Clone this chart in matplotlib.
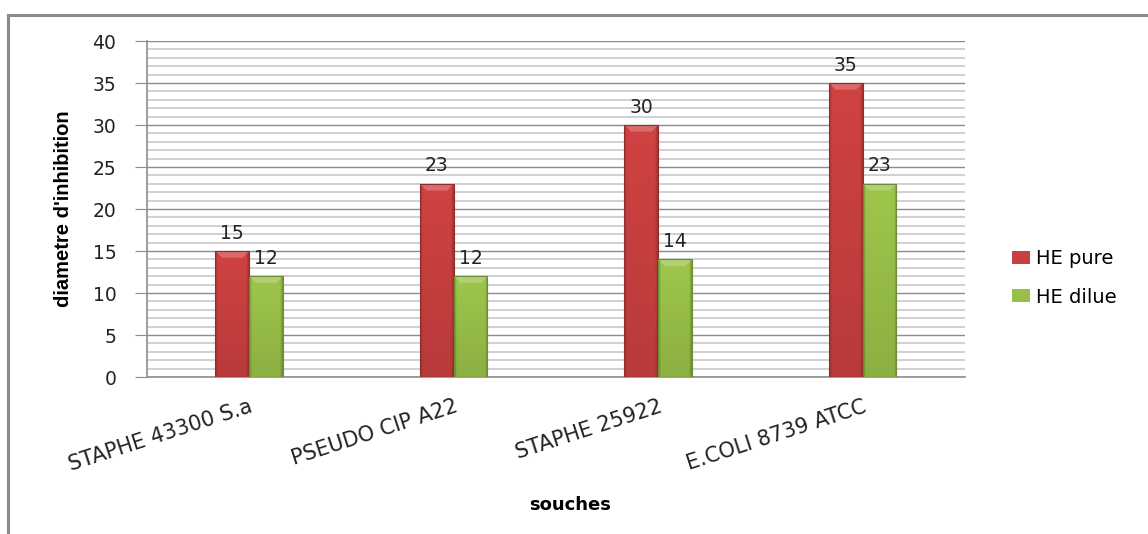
import matplotlib.pyplot as plt
import numpy as np
from matplotlib.colors import to_rgb
from matplotlib.lines import Line2D
from matplotlib.patches import Polygon

# Données : diamètres d'inhibition (mm) par souche
souches = ["STAPHE 43300 S.a", "PSEUDO CIP A22", "STAPHE 25922", "E.COLI 8739 ATCC"]
he_pure = [15, 23, 30, 35]
he_dilue = [12, 12, 14, 23]
series = ["HE pure", "HE dilue"]
couleurs = ["#C8403F", "#98BF48"]

police = ["DejaVu Sans"]
police_etroite = ["Liberation Sans Narrow", "Liberation Sans", "DejaVu Sans"]

fig = plt.figure(figsize=(11.48, 5.34), dpi=100)
ax = fig.add_axes([0.128, 0.294, 0.8406 - 0.128, 0.9232 - 0.294])

x = np.arange(len(souches))
w = 0.165


def bar_gradient(ax, patch, color):
    # remplissage en relief (style Excel) : dégradé clippé sur la barre
    r, g, b = to_rgb(color)
    nx, ny = 60, 200
    u = np.linspace(0, 1, nx)
    v = np.linspace(0, 1, ny)[:, None]
    bord = np.minimum(u, 1 - u)
    horiz = 1 - 0.22 * np.clip(1 - bord / 0.08, 0, 1)
    vert = 0.92 + 0.12 * v
    k = horiz[None, :] * vert
    img = np.zeros((ny, nx, 3))
    for i, c in enumerate((r, g, b)):
        img[:, :, i] = np.clip(c * k, 0, 1)
    x0, y0 = patch.get_x(), patch.get_y()
    x1, y1 = x0 + patch.get_width(), y0 + patch.get_height()
    im = ax.imshow(img, extent=(x0, x1, y0, y1), origin="lower",
                   aspect="auto", zorder=patch.get_zorder() + 0.1,
                   interpolation="bilinear")
    im.set_clip_path(patch)
    # biseau clair en haut de la barre
    d = 0.8
    bev = Polygon([(x0, y1), (x1, y1), (x1 - patch.get_width() * 0.2, y1 - d),
                   (x0 + patch.get_width() * 0.2, y1 - d)], closed=True,
                  facecolor=(1, 1, 1), alpha=0.22, lw=0,
                  zorder=patch.get_zorder() + 0.2)
    ax.add_patch(bev)
    edge = Polygon([(x0, y0), (x0, y1), (x1, y1), (x1, y0)], closed=True,
                   fill=False, edgecolor=tuple(c * 0.72 for c in (r, g, b)),
                   lw=0.8, zorder=patch.get_zorder() + 0.3)
    ax.add_patch(edge)


for j, (vals, col) in enumerate(zip([he_pure, he_dilue], couleurs)):
    bars = ax.bar(x + (j - 0.5) * w, vals, w, color=col, label=series[j], zorder=3)
    for p, v in zip(bars, vals):
        bar_gradient(ax, p, col)
        ax.annotate(f"{v}", (p.get_x() + p.get_width() / 2, v),
                    xytext=(0, 6), textcoords="offset points",
                    ha="center", va="bottom", fontsize=13.5,
                    family=police, color="#222222", zorder=6)

ax.set_xlim(-0.5, len(souches) - 0.5)
ax.set_ylim(0, 40)
ax.set_yticks(np.arange(0, 41, 5))
ax.set_yticks(np.arange(0, 41, 1), minor=True)
ax.grid(axis="y", which="major", color="#8c8c8c", lw=1.0, zorder=0)
ax.grid(axis="y", which="minor", color="#c8c8c8", lw=1.2, zorder=0)
ax.tick_params(axis="y", which="major", length=9, color="#8c8c8c",
               labelsize=13.5, labelcolor="#222222", pad=13)
ax.tick_params(axis="y", which="minor", length=0)
for t in ax.get_yticklabels():
    t.set_family(police)

ax.set_xticks(x)
ax.set_xticklabels(souches, rotation=18, ha="right", rotation_mode="anchor",
                   fontsize=15, family=police, color="#222222")
ax.tick_params(axis="x", length=0, pad=14)

for s in ("top", "right"):
    ax.spines[s].set_visible(False)
for s in ("left", "bottom"):
    ax.spines[s].set_color("#8c8c8c")
    ax.spines[s].set_linewidth(1.2)

ax.set_ylabel("diametre d'inhibition", fontsize=14.5, fontweight="bold",
              family=police_etroite)
ax.yaxis.set_label_coords(-0.0905, 0.5)
fig.text(570 / 1148, 1 - 505 / 534, "souches", ha="center", va="center",
         fontsize=13, fontweight="bold", family=police)

ax.legend(loc="center left", bbox_to_anchor=(1.0575, 0.295), frameon=False,
          borderaxespad=0, borderpad=0, handlelength=0.93, handleheight=0.62,
          handletextpad=0.3, labelspacing=1.0,
          prop={"family": police, "size": 14})

# cadre extérieur du graphique
fig.add_artist(Line2D([8 / 1148, 1], [1 - 15 / 534] * 2, color="#8a8a8a", lw=2.2,
                      transform=fig.transFigure))
fig.add_artist(Line2D([8 / 1148] * 2, [0, 1 - 15 / 534], color="#8a8a8a", lw=2.2,
                      transform=fig.transFigure))

fig.savefig("out.png", dpi=100)
